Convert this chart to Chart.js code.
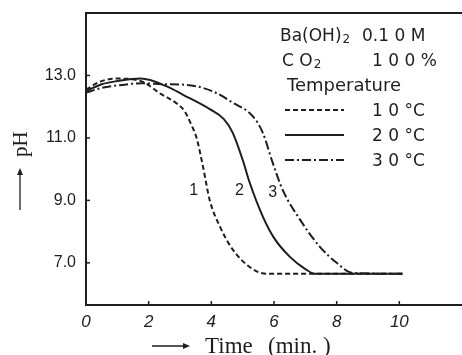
<!DOCTYPE html>
<html>
<head>
<meta charset="utf-8">
<script src="https://cdn.jsdelivr.net/npm/chart.js@4.4.1/dist/chart.umd.min.js"></script>
<style>
  html, body { margin: 0; padding: 0; background: #fff; }
  #wrap { width: 462px; height: 355px; }
</style>
</head>
<body>
<div id="wrap"><canvas id="chart"></canvas></div>
<script>
// pH vs time, Ba(OH)2 0.10 M with 100% CO2
const t10 = [0, 0.5, 1.0, 1.75, 2.4, 2.9, 3.15, 3.37, 3.53, 3.73, 3.95, 4.27, 4.68, 5.32, 5.76, 7.0, 10.1];
const ph10 = [12.55, 12.82, 12.9, 12.82, 12.4, 12.1, 11.85, 11.4, 11.0, 10.1, 9.0, 8.17, 7.43, 6.8, 6.65, 6.65, 6.65];

const t20 = [0, 0.5, 1.0, 1.75, 2.58, 3.1, 3.95, 4.4, 4.68, 5.0, 5.22, 5.64, 6.0, 6.5, 7.0, 7.3, 10.1];
const ph20 = [12.5, 12.72, 12.82, 12.9, 12.65, 12.38, 11.92, 11.6, 11.17, 10.3, 9.58, 8.49, 7.8, 7.2, 6.8, 6.65, 6.65];

const t30 = [0, 0.5, 1.0, 1.8, 2.5, 3.2, 4.05, 4.68, 5.32, 5.64, 5.96, 6.27, 6.82, 7.45, 8.0, 8.5, 10.1];
const ph30 = [12.45, 12.6, 12.68, 12.75, 12.72, 12.7, 12.49, 12.13, 11.7, 11.17, 10.2, 9.35, 8.4, 7.53, 7.0, 6.68, 6.65];

const xTicks = [0, 2, 4, 6, 8, 10];
const yTicks = [7, 9, 11, 13];
const curveLabels = ['1', '2', '3'];
const curveLabelPos = [[3.44, 9.3], [4.9, 9.3], [5.96, 9.25]];
const temps = ['1 0 °C', '2 0 °C', '3 0 °C'];

const INK = '#1e1e1e';
const dashes = [[5, 3], [], [9, 3, 2, 3]];

function pts(xs, ys) {
    return xs.map((x, i) => ({ x: x, y: ys[i] }));
}

const series = [pts(t10, ph10), pts(t20, ph20), pts(t30, ph30)];

// frame top, inward ticks, curve numbers, legend block and axis titles
const decorPlugin = {
    id: 'decor',
    afterDraw(chart) {
        const { ctx, chartArea } = chart;
        const xs = chart.scales.x;
        const ys = chart.scales.y;
        ctx.save();
        ctx.strokeStyle = INK;
        ctx.fillStyle = INK;
        ctx.lineWidth = 2;

        // top border
        ctx.beginPath();
        ctx.moveTo(chartArea.left - 1, chartArea.top);
        ctx.lineTo(chartArea.right, chartArea.top);
        ctx.stroke();

        // inward tick marks
        ctx.lineWidth = 1.5;
        xTicks.forEach(v => {
            const px = xs.getPixelForValue(v);
            ctx.beginPath();
            ctx.moveTo(px, chartArea.bottom);
            ctx.lineTo(px, chartArea.bottom - 4);
            ctx.stroke();
        });
        yTicks.forEach(v => {
            const py = ys.getPixelForValue(v);
            ctx.beginPath();
            ctx.moveTo(chartArea.left, py);
            ctx.lineTo(chartArea.left + 4, py);
            ctx.stroke();
        });

        // curve numbers
        ctx.font = '16px "Liberation Sans"';
        ctx.textAlign = 'center';
        ctx.textBaseline = 'middle';
        curveLabels.forEach((s, i) => {
            ctx.fillText(s, xs.getPixelForValue(curveLabelPos[i][0]), ys.getPixelForValue(curveLabelPos[i][1]));
        });

        // legend block
        ctx.textAlign = 'left';
        ctx.textBaseline = 'alphabetic';
        ctx.font = '17px "DejaVu Sans"';
        ctx.fillText('Ba(OH)', 280, 41);
        let w = ctx.measureText('Ba(OH)').width;
        ctx.font = '12px "DejaVu Sans"';
        ctx.fillText('2', 280 + w + 1, 43);
        ctx.font = '17px "DejaVu Sans"';
        ctx.fillText('0.1 0 M', 362, 41);
        ctx.fillText('C O', 282, 66);
        w = ctx.measureText('C O').width;
        ctx.font = '12px "DejaVu Sans"';
        ctx.fillText('2', 282 + w + 1, 68);
        ctx.font = '17px "DejaVu Sans"';
        ctx.fillText('1 0 0 %', 372, 66);
        ctx.font = '18px "DejaVu Sans"';
        ctx.fillText('Temperature', 287, 91);

        ctx.font = '17px "DejaVu Sans"';
        const rows = [110, 135, 160];
        rows.forEach((ry, i) => {
            ctx.lineWidth = 2;
            ctx.setLineDash(dashes[i]);
            ctx.beginPath();
            ctx.moveTo(285, ry);
            ctx.lineTo(344, ry);
            ctx.stroke();
            ctx.setLineDash([]);
            ctx.fillText(temps[i], 372, ry + 6);
        });

        // x axis title
        ctx.lineWidth = 1.3;
        ctx.beginPath();
        ctx.moveTo(152, 346);
        ctx.lineTo(187, 346);
        ctx.stroke();
        ctx.beginPath();
        ctx.moveTo(183, 343);
        ctx.lineTo(190, 346);
        ctx.lineTo(183, 349);
        ctx.fill();
        ctx.font = '23px "Liberation Serif"';
        ctx.fillText('Time', 205, 353);
        ctx.fillText('(min. )', 268, 353);

        // y axis title, rotated
        ctx.translate(20, 0);
        ctx.rotate(-Math.PI / 2);
        ctx.beginPath();
        ctx.moveTo(-210, 0);
        ctx.lineTo(-173, 0);
        ctx.stroke();
        ctx.beginPath();
        ctx.moveTo(-175, -3);
        ctx.lineTo(-168, 0);
        ctx.lineTo(-175, 3);
        ctx.fill();
        ctx.font = '21px "Liberation Serif"';
        ctx.textBaseline = 'middle';
        ctx.fillText('pH', -157, 1);
        ctx.restore();
    }
};

new Chart(document.getElementById('chart'), {
    type: 'line',
    data: {
        datasets: series.map((d, i) => ({
            label: temps[i],
            data: d,
            borderColor: INK,
            borderWidth: 2,
            borderDash: dashes[i],
            pointRadius: 0,
            fill: false,
            cubicInterpolationMode: 'monotone'
        }))
    },
    options: {
        responsive: true,
        maintainAspectRatio: false,
        animation: false,
        layout: { padding: { top: 13, right: 0, left: 0, bottom: 0 } },
        plugins: { legend: { display: false }, tooltip: { enabled: false } },
        scales: {
            x: {
                type: 'linear',
                min: 0,
                max: 12,
                afterFit: s => { s.height = 50; s.paddingRight = 0; },
                afterBuildTicks: s => { s.ticks = xTicks.map(v => ({ value: v })); },
                grid: { drawOnChartArea: false, drawTicks: false },
                border: { display: true, color: INK, width: 2 },
                ticks: {
                    color: INK,
                    padding: 7,
                    font: { family: 'Liberation Sans', size: 17, style: 'italic' },
                    callback: v => String(v)
                }
            },
            y: {
                type: 'linear',
                min: 5.65,
                max: 15,
                afterFit: s => { s.width = 86; s.paddingTop = 0; },
                afterBuildTicks: s => { s.ticks = yTicks.map(v => ({ value: v })); },
                grid: { drawOnChartArea: false, drawTicks: false },
                border: { display: true, color: INK, width: 2 },
                ticks: {
                    color: INK,
                    padding: 10,
                    font: { family: 'Liberation Sans', size: 16 },
                    callback: v => Number(v).toFixed(1)
                }
            }
        }
    },
    plugins: [decorPlugin]
});
</script>
</body>
</html>
